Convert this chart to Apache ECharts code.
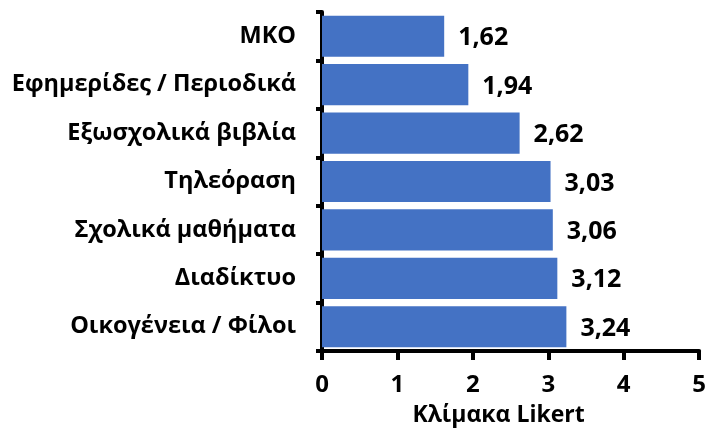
<!DOCTYPE html>
<html>
<head>
<meta charset="utf-8">
<script src="https://cdn.jsdelivr.net/npm/echarts@6/dist/echarts.min.js"></script>
<style>
  html, body { margin: 0; padding: 0; background: #fff; }
  #chart { width: 709px; height: 434px; }
</style>
</head>
<body>
<div id="chart"></div>
<script>
// Sources of information, rated on a Likert scale (top to bottom)
const categories = [
  'ΜΚΟ',
  'Εφημερίδες / Περιοδικά',
  'Εξωσχολικά βιβλία',
  'Τηλεόραση',
  'Σχολικά μαθήματα',
  'Διαδίκτυο',
  'Οικογένεια / Φίλοι'
];
const values = [1.62, 1.94, 2.62, 3.03, 3.06, 3.12, 3.24];
const xTicks = [0, 1, 2, 3, 4, 5];
const axisTitle = 'Κλίμακα Likert';

const FONT = '"Open Sans", sans-serif';
const chart = echarts.init(document.getElementById('chart'));

chart.setOption({
  animation: false,
  grid: { left: 322, right: 7, top: 12, bottom: 83, containLabel: false },
  xAxis: {
    type: 'value',
    min: xTicks[0],
    max: xTicks[xTicks.length - 1],
    interval: 1,
    name: axisTitle,
    nameLocation: 'middle',
    nameGap: 53,
    nameTextStyle: {
      fontFamily: FONT, fontWeight: 'bold', fontSize: 23, color: '#000',
      padding: [0, 24, 0, 0]
    },
    axisLine: { show: true, lineStyle: { color: '#000', width: 4 } },
    axisTick: { show: true, length: 9, lineStyle: { color: '#000', width: 4 } },
    axisLabel: { fontFamily: FONT, fontWeight: 'bold', fontSize: 24, color: '#000', margin: 22 },
    splitLine: { show: false }
  },
  yAxis: {
    type: 'category',
    inverse: true,
    data: categories,
    axisLine: { show: true, lineStyle: { color: '#000', width: 4 } },
    axisTick: { show: true, length: 6, lineStyle: { color: '#000', width: 4 } },
    axisLabel: { fontFamily: FONT, fontWeight: 'bold', fontSize: 23.5, color: '#000', margin: 26 }
  },
  series: [{
    type: 'bar',
    data: values,
    barCategoryGap: '15%',
    itemStyle: { color: '#4472C4' },
    label: {
      show: true,
      position: 'right',
      distance: 14,
      offset: [0, 2],
      fontFamily: FONT,
      fontWeight: 'bold',
      fontSize: 25,
      color: '#000',
      formatter: p => p.value.toFixed(2).replace('.', ',')
    }
  }]
});
</script>
</body>
</html>
